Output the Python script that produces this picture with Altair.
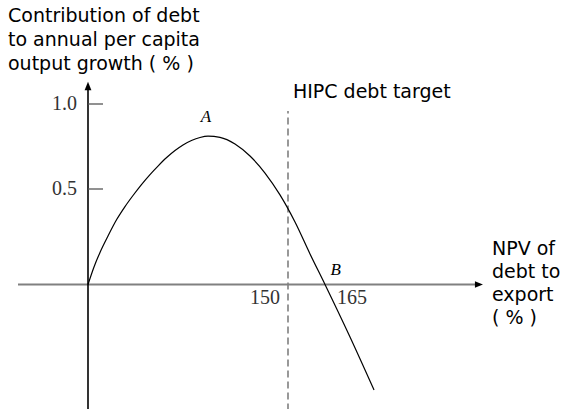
import altair as alt
import pandas as pd

# Contribution of debt to per-capita growth (%) against NPV of debt to exports (%)
debt_ratio = [0, 4.5, 9, 15, 21.5, 27.75, 33.75, 40.1, 46.5, 52.5, 59, 65.25, 71.25, 77.6, 84, 90,
              99, 110.25, 121.5, 132.75, 144, 152.84, 158.92, 165, 175.14, 184.86]
growth_contrib = [0, 0.092, 0.168, 0.254, 0.340, 0.408, 0.466, 0.526, 0.585, 0.635, 0.685, 0.726,
                  0.759, 0.785, 0.803, 0.811, 0.804, 0.765, 0.694, 0.594, 0.469, 0.327, 0.160, 0,
                  -0.275, -0.552]

# Reference values marked on the axes
y_tick_values = [0.5, 1.0]
y_tick_labels = ["0.5", "1.0"]
hipc_target = 150
zero_crossing = 165

# Text
y_title_lines = ["Contribution of debt", "to annual per capita", "output growth ( % )"]
x_title_lines = ["NPV of", "debt to", "export", "( % )"]
target_label = "HIPC debt target"
peak_name = "A"
crossing_name = "B"

SANS = "DejaVu Sans"
SERIF = "Liberation Serif"

# Schematic (piecewise) scales: the stretch between the target and the crossing is widened
x_scale = alt.Scale(domain=[0, hipc_target, zero_crossing], range=[88, 288, 325], nice=False, zero=False)
y_scale = alt.Scale(domain=[0, 0.5, 1.0], range=[284.5, 189, 104], nice=False, zero=False)


def X(field="x", **kw):
    return alt.X(field, type="quantitative", scale=x_scale, axis=None, **kw)


def Y(field="y", **kw):
    return alt.Y(field, type="quantitative", scale=y_scale, axis=None, **kw)


x_lo, x_hi = -52.5, 226.0
y_lo, y_hi = -0.66, 1.1

# Axes drawn through the origin
x_axis = alt.Chart(pd.DataFrame({"x": [x_lo], "x2": [x_hi], "y": [0]})).mark_rule(
    color="#808080", strokeWidth=2
).encode(x=X(), x2="x2", y=Y())

y_axis = alt.Chart(pd.DataFrame({"x": [0], "y": [y_lo], "y2": [y_hi]})).mark_rule(
    color="black", strokeWidth=1.6
).encode(x=X(), y=Y(), y2="y2")

y_arrow = alt.Chart(pd.DataFrame({"x": [0], "y": [1.106]})).mark_point(
    shape="M0,-1L0.8,1L-0.8,1Z", size=72, filled=True, color="black", opacity=1
).encode(x=X(), y=Y())

x_arrow = alt.Chart(pd.DataFrame({"x": [227.4], "y": [0]})).mark_point(
    shape="M1,0L-1,0.8L-1,-0.8Z", size=64, filled=True, color="black", opacity=1
).encode(x=X(), y=Y())

ticks_df = pd.DataFrame({"x": [0] * len(y_tick_values), "x2": [11.25] * len(y_tick_values),
                         "y": y_tick_values, "label": y_tick_labels})
y_ticks = alt.Chart(ticks_df).mark_rule(color="#555555", strokeWidth=1.3).encode(
    x=X(), x2="x2", y=Y()
)
y_tick_text = alt.Chart(ticks_df).mark_text(
    align="right", baseline="middle", font=SERIF, fontSize=20, color="#333333", dx=-11
).encode(x=X(), y=Y(), text="label:N")

x_marks_df = pd.DataFrame({
    "x": [hipc_target, zero_crossing],
    "y": [-0.072, -0.072],
    "label": [str(hipc_target), str(zero_crossing)],
})
x_mark_150 = alt.Chart(x_marks_df.iloc[[0]]).mark_text(
    align="right", baseline="middle", font=SERIF, fontSize=20, color="#333333", dx=-8
).encode(x=X(), y=Y(), text="label:N")
x_mark_165 = alt.Chart(x_marks_df.iloc[[1]]).mark_text(
    align="left", baseline="middle", font=SERIF, fontSize=20, color="#333333", dx=12
).encode(x=X(), y=Y(), text="label:N")

# HIPC threshold
target_line = alt.Chart(pd.DataFrame({"x": [hipc_target], "y": [y_lo], "y2": [0.959]})).mark_rule(
    color="#555555", strokeWidth=1.2, strokeDash=[7, 4]
).encode(x=X(), y=Y(), y2="y2")

target_text = alt.Chart(pd.DataFrame({"x": [152.0], "y": [1.035], "t": [target_label]})).mark_text(
    align="left", baseline="alphabetic", font=SANS, fontSize=19, color="black"
).encode(x=X(), y=Y(), text="t:N")

# The growth curve
curve = alt.Chart(pd.DataFrame({"x": debt_ratio, "y": growth_contrib})).mark_line(
    interpolate="monotone", color="black", strokeWidth=1.2
).encode(x=X(), y=Y())

points_df = pd.DataFrame({"x": [88.5, 169.3], "y": [0.921, 0.076], "t": [peak_name, crossing_name]})
point_names = alt.Chart(points_df).mark_text(
    align="center", baseline="middle", font=SERIF, fontSize=17, fontStyle="italic", color="black"
).encode(x=X(), y=Y(), text="t:N")

# Axis titles
y_title = alt.Chart(pd.DataFrame({"x": [-60], "y": [1.484], "t": ["\n".join(y_title_lines)]})).mark_text(
    align="left", baseline="alphabetic", font=SANS, fontSize=19, lineHeight=24, lineBreak="\n",
    color="black"
).encode(x=X(), y=Y(), text="t:N")

x_title = alt.Chart(pd.DataFrame({"x": [232.7], "y": [0.154], "t": ["\n".join(x_title_lines)]})).mark_text(
    align="left", baseline="alphabetic", font=SANS, fontSize=19, lineHeight=23, lineBreak="\n",
    color="black"
).encode(x=X(), y=Y(), text="t:N")

chart = alt.layer(
    target_line, x_axis, y_axis, y_arrow, x_arrow, y_ticks, y_tick_text,
    x_mark_150, x_mark_165, target_text, curve, point_names, y_title, x_title
).properties(
    width=562, height=409, padding=0, autosize="none", background="white"
).configure_view(stroke=None)

chart.save("out.html", embed_options={"renderer": "svg", "actions": False})
